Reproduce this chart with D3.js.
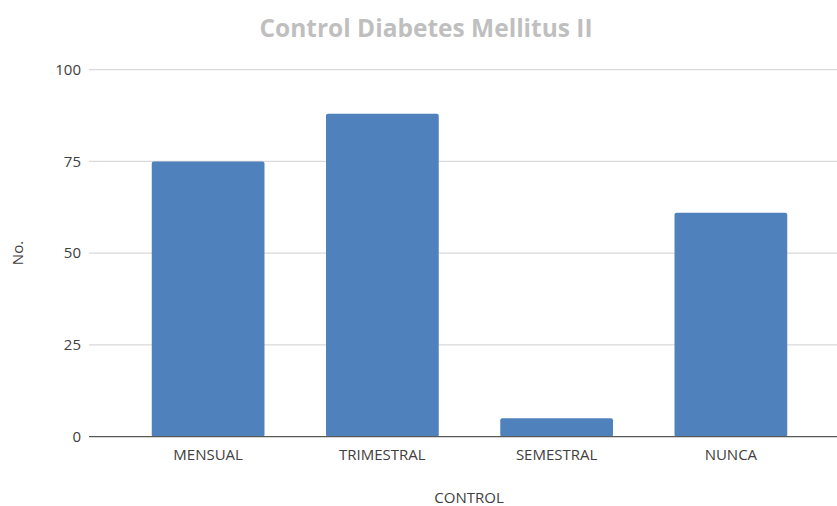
<!DOCTYPE html>
<html><head><meta charset="utf-8">
<script src="https://cdn.jsdelivr.net/npm/d3@7"></script>
<style>body{margin:0;background:#fff}svg{display:block}</style>
</head><body>
<svg id="chart" width="837" height="506"></svg>
<script>
const categories = ["MENSUAL", "TRIMESTRAL", "SEMESTRAL", "NUNCA"];
const values = [75, 88, 5, 61];
const yTicks = [0, 25, 50, 75, 100];
const title = "Control Diabetes Mellitus II";
const xTitle = "CONTROL";
const yTitle = "No.";

const svg = d3.select("#chart");
const font = "'Open Sans', 'Noto Sans', sans-serif";
const gridLeft = 89, gridRight = 837;
const y = d3.scaleLinear().domain([0, 100]).range([436.7, 69.7]);
const x = d3.scaleBand().domain(categories).range([121, 818]).paddingInner(0.353).paddingOuter(0.353/2);

// gridlines
svg.append("g").selectAll("line").data(yTicks.filter(d => d > 0)).join("line")
  .attr("x1", gridLeft).attr("x2", gridRight)
  .attr("y1", d => y(d)).attr("y2", d => y(d))
  .attr("stroke", "#d9d9d9").attr("stroke-width", 1.3);

// y tick labels
svg.append("g").selectAll("text").data(yTicks).join("text")
  .attr("x", 81).attr("y", d => y(d)).attr("dy", "0.35em")
  .attr("text-anchor", "end").attr("font-family", font).attr("font-size", 15)
  .attr("fill", "#404040").text(d => d);

// bars
svg.append("g").selectAll("rect").data(values).join("rect")
  .attr("x", (d, i) => x(categories[i])).attr("width", x.bandwidth())
  .attr("y", d => y(d)).attr("height", d => y(0) - y(d))
  .attr("rx", 2).attr("fill", "#4f81bd");

// baseline
svg.append("line").attr("x1", gridLeft).attr("x2", gridRight)
  .attr("y1", y(0)).attr("y2", y(0)).attr("stroke", "#595959").attr("stroke-width", 1.3);

// category labels
svg.append("g").selectAll("text").data(categories).join("text")
  .attr("x", d => x(d) + x.bandwidth() / 2).attr("y", 455).attr("dy", "0.35em")
  .attr("text-anchor", "middle").attr("font-family", font).attr("font-size", 15)
  .attr("fill", "#404040").text(d => d);

// axis titles
svg.append("text").attr("x", 469).attr("y", 498).attr("dy", "0.35em")
  .attr("text-anchor", "middle").attr("font-family", font).attr("font-size", 15)
  .attr("fill", "#404040").text(xTitle);
svg.append("text").attr("transform", "translate(18,253) rotate(-90)").attr("dy", "0.35em")
  .attr("text-anchor", "middle").attr("font-family", font).attr("font-size", 15)
  .attr("fill", "#404040").text(yTitle);

// title
svg.append("text").attr("x", 426).attr("y", 28).attr("dy", "0.35em")
  .attr("text-anchor", "middle").attr("font-family", font).attr("font-size", 24.5)
  .attr("font-weight", "bold").attr("fill", "#bfbfbf").text(title);
</script>
</body></html>
